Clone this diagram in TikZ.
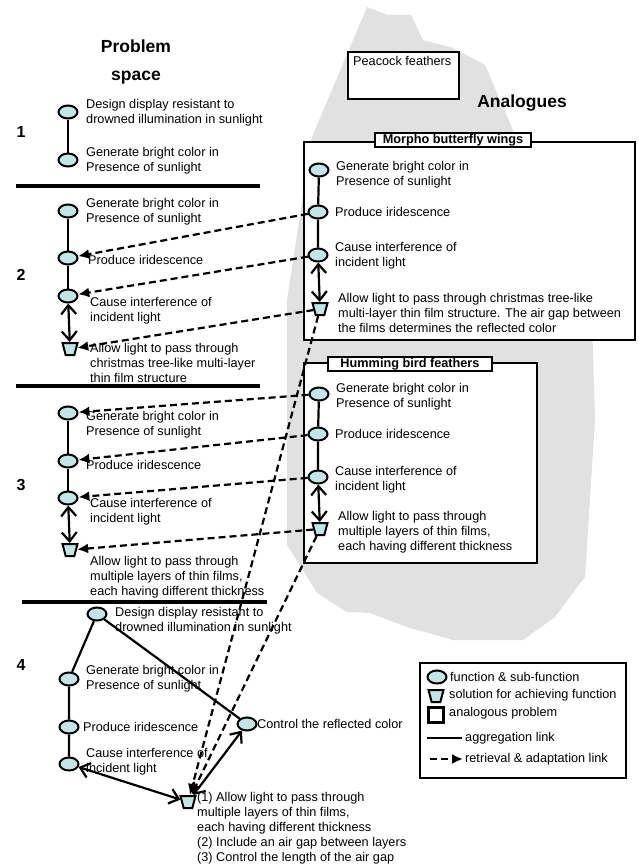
\documentclass[tikz,border=0pt]{standalone}
\usepackage{fontspec}
\setmainfont{Liberation Sans}
\usetikzlibrary{shapes.geometric,arrows.meta}

\definecolor{fncol}{RGB}{196,228,230}
\definecolor{blobgray}{RGB}{225,225,225}

\tikzset{
  fn/.style={ellipse,draw,line width=2pt,fill=fncol,minimum width=19pt,minimum height=13pt,inner sep=0pt},
  sol/.style={trapezium,shape border rotate=180,trapezium angle=70,trapezium stretches=true,draw,line width=2pt,
    fill=fncol,minimum width=15pt,minimum height=12pt,inner sep=1pt},
  txt/.style={anchor=west,align=left,inner sep=0pt,font=\fontsize{12.7}{15}\selectfont},
  agg/.style={line width=2.2pt},
  twoway/.style={line width=2.2pt,{Straight Barb[length=9pt,width=15pt]}-{Straight Barb[length=9pt,width=15pt]}},
  retr/.style={line width=2.2pt,dash pattern=on 7pt off 4pt,-{Latex[length=11pt,width=10pt]}},
  sep/.style={line width=3.8pt},
  frame/.style={draw,line width=2.2pt,fill=white},
  head/.style={draw,line width=2.2pt,fill=white,font=\fontsize{12.7}{15}\selectfont\bfseries,inner sep=1pt}
}

\begin{document}
\begin{tikzpicture}[x=1pt,y=-1pt]
  \useasboundingbox (0,0) rectangle (639,867);

  % grey area behind the analogues
  \fill[blobgray] (367,7) -- (388,15) -- (411,15) -- (423,40) -- (453,48) -- (485,65) -- (513,130)
    -- (560,200) -- (592,320) -- (595,420) -- (585,577) -- (575,590) -- (555,617) -- (523,640)
    -- (453,640) -- (407,627) -- (370,613) -- (347,612) -- (317,593) -- (303,570) -- (287,545)
    -- (287,300) -- (312,137) -- cycle;

  \node[font=\fontsize{17.5}{28}\selectfont\bfseries,align=center] (ptitle) at (136,62) {Problem\\space};
  \node[font=\fontsize{17.5}{20}\selectfont\bfseries] (atitle) at (522,103) {Analogues};
  \foreach \n/\y in {1/132,2/275,3/485,4/665}
    \node[font=\fontsize{16}{18}\selectfont\bfseries] (num\n) at (21,\y) {\n};

  \draw[sep] (16,186) -- (260,186);
  \draw[sep] (16,386) -- (260,386);
  \draw[sep] (22,602) -- (267,602);

  % analogous problems
  \draw[frame] (348,52) rectangle (459,99);
  \node[txt] (peacock) at (353,61) {Peacock feathers};
  \draw[frame] (304,142) rectangle (635,340);
  \node[head,minimum width=156pt] (morpho) at (453,140) {Morpho butterfly wings};
  \draw[frame] (304,363) rectangle (537,563);
  \node[head,minimum width=164pt] (humming) at (410,364) {Humming bird feathers};

  % 1
  \node[fn] (p1a) at (68,112) {};
  \node[txt] (p1at) at (86,113) {Design display resistant to\\drowned illumination in sunlight};
  \node[fn] (p1b) at (68,160) {};
  \node[txt] (p1bt) at (86,161) {Generate bright color in\\Presence of sunlight};
  \draw[agg] (p1a) -- (p1b);

  % 2
  \node[fn] (p2a) at (68,211) {};
  \node[txt] (p2at) at (86,212) {Generate bright color in\\Presence of sunlight};
  \node[fn] (p2b) at (68,258) {};
  \node[txt] (p2bt) at (88,260) {Produce iridescence};
  \node[fn] (p2c) at (68,296) {};
  \node[txt] (p2ct) at (90,311) {Cause interference of\\incident light};
  \node[sol] (p2s) at (70,349) {};
  \node[txt] (p2st) at (90,363) {Allow light to pass through\\christmas tree-like multi-layer\\thin film structure};
  \draw[agg] (p2a) -- (p2b) -- (p2c);
  \draw[twoway] (p2c) -- (p2s);

  % 3
  \node[fn] (p3a) at (68,413) {};
  \node[txt] (p3at) at (86,425) {Generate bright color in\\Presence of sunlight};
  \node[fn] (p3b) at (68,461) {};
  \node[txt] (p3bt) at (86,465) {Produce iridescence};
  \node[fn] (p3c) at (68,498) {};
  \node[txt] (p3ct) at (90,512) {Cause interference of\\incident light};
  \node[sol] (p3s) at (70,550) {};
  \node[txt] (p3st) at (90,577) {Allow light to pass through\\multiple layers of thin films,\\each having different thickness};
  \draw[agg] (p3a) -- (p3b) -- (p3c);
  \draw[twoway] (p3c) -- (p3s);

  % 4
  \node[fn] (p4t) at (97,614) {};
  \node[txt] (p4tt) at (115,621) {Design display resistant to\\drowned illumination in sunlight};
  \node[fn] (p4g) at (69,679) {};
  \node[txt] (p4gt) at (86,679) {Generate bright color in\\Presence of sunlight};
  \node[fn] (p4p) at (69,727) {};
  \node[txt] (p4pt) at (83,727) {Produce iridescence};
  \node[fn] (p4c) at (69,764) {};
  \node[txt] (p4ct) at (86,762) {Cause interference of\\incident light};
  \node[fn] (p4r) at (247,724) {};
  \node[txt] (p4rt) at (257,724) {Control the reflected color};
  \node[sol] (p4s) at (188,802) {};
  \node[txt] (p4st) at (197,828) {(1) Allow light to pass through\\multiple layers of thin films,\\each having different thickness\\(2) Include an air gap between layers\\(3) Control the length of the air gap};
  \draw[agg] (p4t) -- (p4g) -- (p4p) -- (p4c);
  \draw[agg] (p4t) -- (p4r);
  \draw[twoway] (p4c) -- (p4s);
  \draw[twoway] (p4s) -- (p4r);

  % morpho
  \node[fn] (ma) at (319,170) {};
  \node[txt] (mat) at (336,175) {Generate bright color in\\Presence of sunlight};
  \node[fn] (mb) at (318,212) {};
  \node[txt] (mbt) at (335,212) {Produce iridescence};
  \node[fn] (mc) at (318,255) {};
  \node[txt] (mct) at (335,256) {Cause interference of\\incident light};
  \node[sol] (ms) at (320,309) {};
  \node[txt] (mst) at (338,313) {Allow light to pass through christmas tree-like\\multi-layer thin film structure. The air gap between\\the films determines the reflected color};
  \draw[agg] (ma) -- (mb) -- (mc);
  \draw[twoway] (mc) -- (ms);

  % humming bird
  \node[fn] (ha) at (319,394) {};
  \node[txt] (hat) at (336,397) {Generate bright color in\\Presence of sunlight};
  \node[fn] (hb) at (318,434) {};
  \node[txt] (hbt) at (335,434) {Produce iridescence};
  \node[fn] (hc) at (318,477) {};
  \node[txt] (hct) at (335,480) {Cause interference of\\incident light};
  \node[sol] (hs) at (320,529) {};
  \node[txt] (hst) at (338,532) {Allow light to pass through\\multiple layers of thin films,\\each having different thickness};
  \draw[agg] (ha) -- (hb) -- (hc);
  \draw[twoway] (hc) -- (hs);

  % retrieval
  \draw[retr] (mb) -- (p2b);
  \draw[retr] (mc) -- (p2c);
  \draw[retr] (ms) -- (p2s);
  \draw[retr] (ha) -- (p3a);
  \draw[retr] (hb) -- (p3b);
  \draw[retr] (hc) -- (p3c);
  \draw[retr] (hs) -- (p3s);
  \draw[retr] (ms) -- (p4s);
  \draw[retr] (hs) -- (p4s);

  % legend
  \draw[frame] (420,663) rectangle (626,778);
  \node[fn] (kfn) at (437,677) {};
  \node[txt] (kfnt) at (450,677) {function \& sub-function};
  \node[sol] (ksol) at (436,696) {};
  \node[txt] (ksolt) at (449,695) {solution for achieving function};
  \node[draw,line width=2.2pt,minimum size=15pt,inner sep=0pt] (kbox) at (436,715) {};
  \node[txt] (kboxt) at (449,713) {analogous problem};
  \coordinate (kagg1) at (427,738);
  \coordinate (kagg2) at (462,738);
  \draw[agg] (kagg1) -- (kagg2);
  \node[txt] (kaggt) at (465,738) {aggregation link};
  \coordinate (kret1) at (430,759);
  \coordinate (kret2) at (463,759);
  \draw[retr] (kret1) -- (kret2);
  \node[txt] (krett) at (465,759) {retrieval \& adaptation link};
\end{tikzpicture}
\end{document}
